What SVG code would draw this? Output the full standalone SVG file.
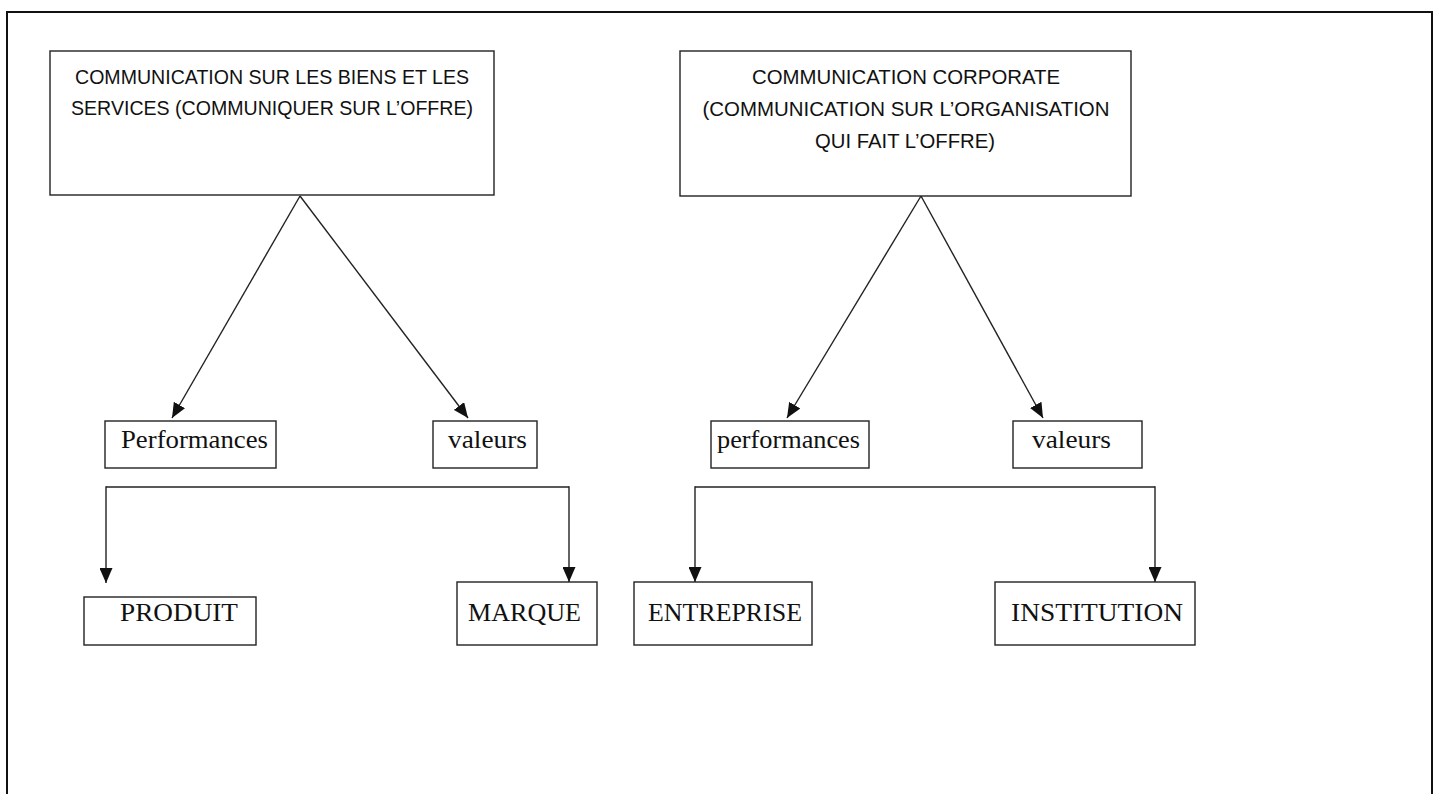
<svg xmlns="http://www.w3.org/2000/svg" width="1441" height="794" viewBox="0 0 1441 794">
<defs>
<marker id="ah" markerUnits="userSpaceOnUse" markerWidth="15" markerHeight="13" viewBox="0 0 15 13" refX="15" refY="6.5" orient="auto">
<path d="M0,0 L15,6.5 L0,13 Z" fill="#111"/>
</marker>
</defs>
<style>
.box{fill:#fff;stroke:#222;stroke-width:1.4}
.frame{fill:none;stroke:#111;stroke-width:2}
.sans{font-family:"Liberation Sans",Arial,sans-serif;font-size:21px;fill:#111}
.serif{font-family:"Liberation Serif","Times New Roman",serif;font-size:26px;fill:#111}
.conn{fill:none;stroke:#222;stroke-width:1.4}
</style>
<rect width="1441" height="794" fill="#fff"/>
<rect class="frame" x="7" y="12" width="1425" height="800"/>

<g id="connectors">
<line class="conn" x1="300" y1="196" x2="172" y2="418" marker-end="url(#ah)"/>
<line class="conn" x1="300" y1="196" x2="468" y2="418" marker-end="url(#ah)"/>
<line class="conn" x1="921" y1="196" x2="787" y2="418" marker-end="url(#ah)"/>
<line class="conn" x1="921" y1="196" x2="1043" y2="418" marker-end="url(#ah)"/>
<polyline class="conn" points="106,487 569,487"/>
<line class="conn" x1="106" y1="486.3" x2="106" y2="583" marker-end="url(#ah)"/>
<line class="conn" x1="569" y1="486.3" x2="569" y2="582" marker-end="url(#ah)"/>
<polyline class="conn" points="695,487 1155,487"/>
<line class="conn" x1="695" y1="486.3" x2="695" y2="582" marker-end="url(#ah)"/>
<line class="conn" x1="1155" y1="486.3" x2="1155" y2="582" marker-end="url(#ah)"/>
</g>

<g id="node-biens">
<rect class="box" x="50" y="51" width="444" height="144"/>
<text class="sans" x="272" y="84" text-anchor="middle" textLength="394" lengthAdjust="spacingAndGlyphs">COMMUNICATION SUR LES BIENS ET LES</text>
<text class="sans" x="272" y="115" text-anchor="middle" textLength="402" lengthAdjust="spacingAndGlyphs">SERVICES (COMMUNIQUER SUR L’OFFRE)</text>
</g>

<g id="node-corporate">
<rect class="box" x="680" y="51" width="451" height="145"/>
<text class="sans" x="906" y="84" text-anchor="middle" textLength="308" lengthAdjust="spacingAndGlyphs">COMMUNICATION CORPORATE</text>
<text class="sans" x="906" y="116" text-anchor="middle" textLength="407" lengthAdjust="spacingAndGlyphs">(COMMUNICATION SUR L’ORGANISATION</text>
<text class="sans" x="905" y="148" text-anchor="middle" textLength="180" lengthAdjust="spacingAndGlyphs">QUI FAIT L’OFFRE)</text>
</g>

<g id="node-performances-1">
<rect class="box" x="105" y="421" width="171" height="47"/>
<text class="serif" x="121" y="448" textLength="147" lengthAdjust="spacingAndGlyphs">Performances</text>
</g>
<g id="node-valeurs-1">
<rect class="box" x="433" y="421" width="104" height="47"/>
<text class="serif" x="448" y="448" textLength="79" lengthAdjust="spacingAndGlyphs">valeurs</text>
</g>
<g id="node-performances-2">
<rect class="box" x="711" y="421" width="158" height="47"/>
<text class="serif" x="717" y="448" textLength="143" lengthAdjust="spacingAndGlyphs">performances</text>
</g>
<g id="node-valeurs-2">
<rect class="box" x="1013" y="421" width="129" height="47"/>
<text class="serif" x="1032" y="448" textLength="79" lengthAdjust="spacingAndGlyphs">valeurs</text>
</g>

<g id="node-produit">
<rect class="box" x="84" y="597" width="172" height="48"/>
<text class="serif" x="120" y="621" textLength="118" lengthAdjust="spacingAndGlyphs">PRODUIT</text>
</g>
<g id="node-marque">
<rect class="box" x="457" y="582" width="140" height="63"/>
<text class="serif" x="468" y="621" textLength="113" lengthAdjust="spacingAndGlyphs">MARQUE</text>
</g>
<g id="node-entreprise">
<rect class="box" x="634" y="582" width="178" height="63"/>
<text class="serif" x="648" y="621" textLength="154" lengthAdjust="spacingAndGlyphs">ENTREPRISE</text>
</g>
<g id="node-institution">
<rect class="box" x="995" y="582" width="200" height="63"/>
<text class="serif" x="1011" y="621" textLength="172" lengthAdjust="spacingAndGlyphs">INSTITUTION</text>
</g>
</svg>
